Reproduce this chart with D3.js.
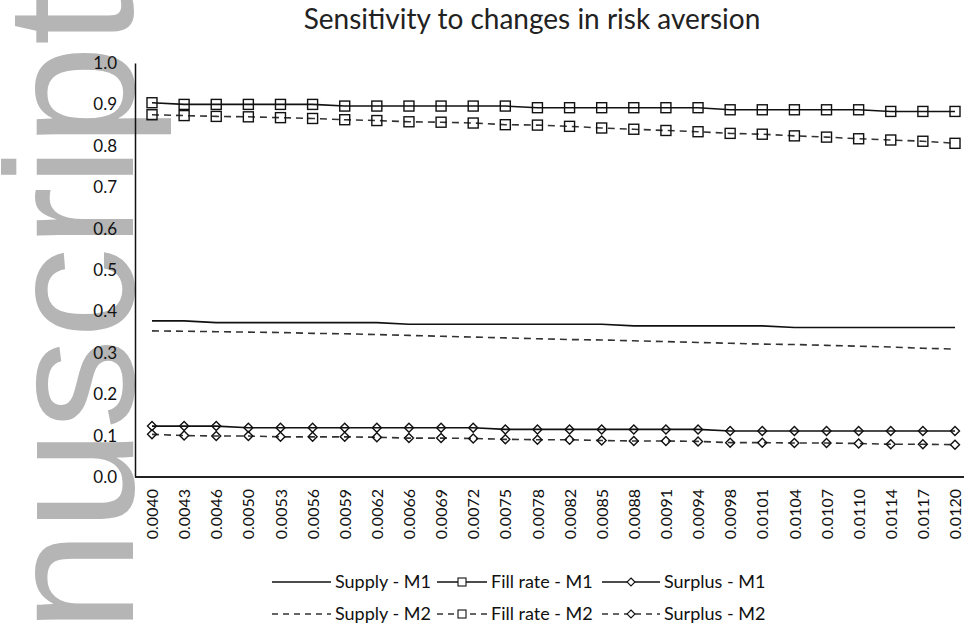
<!DOCTYPE html>
<html>
<head>
<meta charset="utf-8">
<script src="https://cdn.jsdelivr.net/npm/d3@7"></script>
<style>
  body { margin: 0; background: #fff; }
  svg { display: block; font-family: Lato, "Open Sans", sans-serif; }
</style>
</head>
<body>
<div id="chart"></div>
<script>
// risk aversion values (x categories)
var categories = ["0.0040","0.0043","0.0046","0.0050","0.0053","0.0056","0.0059","0.0062","0.0066",
  "0.0069","0.0072","0.0075","0.0078","0.0082","0.0085","0.0088","0.0091","0.0094","0.0098",
  "0.0101","0.0104","0.0107","0.0110","0.0114","0.0117","0.0120"];

var supplyM1 = [0.377,0.377,0.373,0.373,0.373,0.373,0.373,0.373,0.369,0.369,0.369,0.369,0.369,
  0.369,0.369,0.365,0.365,0.365,0.365,0.365,0.361,0.361,0.361,0.361,0.361,0.361];
var fillM1 = [0.904,0.900,0.900,0.900,0.900,0.900,0.896,0.896,0.896,0.896,0.896,0.896,0.892,
  0.892,0.892,0.892,0.892,0.892,0.887,0.887,0.887,0.887,0.887,0.883,0.883,0.883];
var surplusM1 = [0.123,0.123,0.123,0.119,0.119,0.119,0.119,0.119,0.119,0.119,0.119,0.115,0.115,
  0.115,0.115,0.115,0.115,0.115,0.111,0.111,0.111,0.111,0.111,0.111,0.111,0.111];
var supplyM2 = [0.353,0.352,0.351,0.350,0.349,0.347,0.346,0.344,0.342,0.340,0.338,0.336,0.334,
  0.332,0.331,0.329,0.327,0.325,0.323,0.321,0.320,0.318,0.316,0.314,0.311,0.309];
var fillM2 = [0.875,0.873,0.871,0.870,0.868,0.866,0.863,0.861,0.858,0.857,0.855,0.851,0.850,
  0.847,0.843,0.840,0.837,0.834,0.830,0.828,0.824,0.821,0.817,0.814,0.811,0.806];
var surplusM2 = [0.103,0.100,0.099,0.099,0.097,0.097,0.097,0.096,0.094,0.094,0.093,0.091,0.090,
  0.090,0.088,0.087,0.087,0.086,0.083,0.083,0.082,0.082,0.081,0.079,0.079,0.078];

var yTicks = [0,0.1,0.2,0.3,0.4,0.5,0.6,0.7,0.8,0.9,1.0];
var title = "Sensitivity to changes in risk aversion";

var series = [
  {name: "Supply - M1", values: supplyM1, dashed: false, marker: null},
  {name: "Fill rate - M1", values: fillM1, dashed: false, marker: "square"},
  {name: "Surplus - M1", values: surplusM1, dashed: false, marker: "diamond"},
  {name: "Supply - M2", values: supplyM2, dashed: true, marker: null},
  {name: "Fill rate - M2", values: fillM2, dashed: true, marker: "square"},
  {name: "Surplus - M2", values: surplusM2, dashed: true, marker: "diamond"}
];

var width = 964, height = 634;
var plot = {left: 135, right: 970, top: 63, bottom: 477};

var svg = d3.select("#chart")
  .append("svg")
  .attr("width", width)
  .attr("height", height);

// watermark left over from the source page
svg.append("text")
  .attr("transform", "translate(133,632) rotate(-90)")
  .style("font-family", "'Liberation Sans', Arial, sans-serif")
  .style("font-size", "182px")
  .style("fill", "#b5b5b5")
  .text("nuscript");

var x = d3.scalePoint()
  .domain(categories)
  .range([152, 955]);

var y = d3.scaleLinear()
  .domain([0, 1])
  .range([plot.bottom, plot.top]);

// title
svg.append("text")
  .attr("x", 532)
  .attr("y", 29)
  .attr("text-anchor", "middle")
  .style("font-size", "28px")
  .style("fill", "#222")
  .text(title);

// y axis
var yAxis = svg.append("g")
  .attr("transform", "translate(" + plot.left + ",0)")
  .call(d3.axisLeft(y).tickValues(yTicks).tickFormat(d3.format(".1f")).tickSize(0).tickPadding(18));
yAxis.select(".domain").attr("stroke", "#111").attr("stroke-width", 1.5);
yAxis.selectAll("text").style("font-size", "17px").style("fill", "#111").style("font-family", "Lato, sans-serif");

// x axis
var xAxis = svg.append("g")
  .attr("transform", "translate(0," + plot.bottom + ")")
  .call(d3.axisBottom(x).tickSize(0));
xAxis.select(".domain").remove();
xAxis.append("line")
  .attr("x1", plot.left).attr("x2", plot.right)
  .attr("stroke", "#222").attr("stroke-width", 2);
xAxis.selectAll(".tick text")
  .attr("transform", "rotate(-90)")
  .attr("text-anchor", "end")
  .attr("x", -12)
  .attr("y", 0)
  .attr("dy", "0.35em")
  .style("font-size", "16px")
  .style("fill", "#111")
  .style("font-family", "Lato, sans-serif");

var line = d3.line()
  .x(function(d, i) { return x(categories[i]); })
  .y(function(d) { return y(d); });

function drawMarker(sel, type) {
  if (type === "square") {
    sel.append("rect")
      .attr("x", -5).attr("y", -5)
      .attr("width", 10).attr("height", 10);
  } else {
    sel.append("path").attr("d", "M0,-4.5L4.5,0L0,4.5L-4.5,0Z");
  }
  sel.attr("fill", "none").attr("stroke", "#111").attr("stroke-width", 1.4);
}

series.forEach(function(s) {
  svg.append("path")
    .datum(s.values)
    .attr("fill", "none")
    .attr("stroke", s.dashed ? "#333" : "#111")
    .attr("stroke-width", 1.6)
    .attr("stroke-dasharray", s.dashed ? "7,5" : null)
    .attr("d", line);

  if (s.marker) {
    svg.selectAll(null)
      .data(s.values)
      .enter()
      .append("g")
      .attr("transform", function(d, i) { return "translate(" + x(categories[i]) + "," + y(d) + ")"; })
      .each(function() { drawMarker(d3.select(this), s.marker); });
  }
});

// legend, two rows of three
var legendCols = [{x0: 272, x1: 331}, {x0: 437, x1: 487}, {x0: 602, x1: 660}];
var legendRows = [582, 614];

series.forEach(function(s, k) {
  var col = legendCols[k % 3], rowY = legendRows[Math.floor(k / 3)];
  var g = svg.append("g");
  g.append("line")
    .attr("x1", col.x0).attr("x2", col.x1)
    .attr("y1", rowY).attr("y2", rowY)
    .attr("stroke", s.dashed ? "#333" : "#111")
    .attr("stroke-width", 1.4)
    .attr("stroke-dasharray", s.dashed ? "6,5" : null);
  if (s.marker) {
    var m = g.append("g").attr("transform", "translate(" + ((col.x0 + col.x1) / 2) + "," + rowY + ")");
    if (s.marker === "square") {
      m.append("rect").attr("x", -4).attr("y", -4).attr("width", 8).attr("height", 8);
    } else {
      m.append("path").attr("d", "M0,-4L4,0L0,4L-4,0Z");
    }
    m.attr("fill", "#fff").attr("stroke", "#111").attr("stroke-width", 1.1);
  }
  g.append("text")
    .attr("x", col.x1 + 4)
    .attr("y", rowY)
    .attr("dy", "0.35em")
    .style("font-size", "18px")
    .style("fill", "#111")
    .text(s.name);
});
</script>
</body>
</html>
